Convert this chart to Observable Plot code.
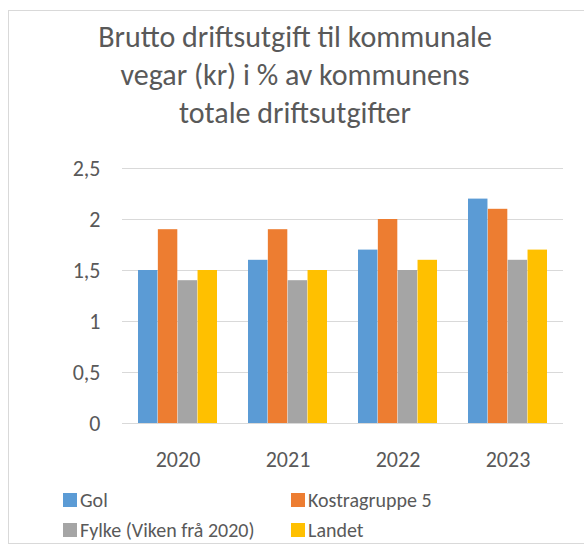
<!DOCTYPE html>
<html>
<head>
<meta charset="utf-8">
<script src="https://cdn.jsdelivr.net/npm/d3@7"></script>
<script src="https://cdn.jsdelivr.net/npm/@observablehq/plot@0.6"></script>
<style>
  html, body { margin: 0; padding: 0; background: #ffffff; }
  body { width: 584px; height: 550px; position: relative; overflow: hidden; font-family: Calibri, Carlito, Lato, "Open Sans", sans-serif; color: #595959; }
  #frame { position: absolute; left: 8px; top: 10px; width: 590px; height: 534px; border: 1px solid #d9d9d9; box-sizing: border-box; }
  #title { position: absolute; left: 8px; width: 574px; top: 18px; text-align: center; font-size: 30px; line-height: 38px; color: #595959; }
  #chart { position: absolute; left: 0; top: 150px; }
  .leg { position: absolute; font-size: 20px; line-height: 22px; color: #595959; white-space: nowrap; }
  .sw { position: absolute; width: 14px; height: 14px; }
</style>
</head>
<body>
<div id="frame"></div>
<div id="title">Brutto driftsutgift til kommunale<br>vegar (kr) i % av kommunens<br>totale driftsutgifter</div>
<div id="chart"></div>
<div id="legend"></div>
<script>
// ---- data ----
const years = ["2020", "2021", "2022", "2023"];
const seriesNames = ["Gol", "Kostragruppe 5", "Fylke (Viken frå 2020)", "Landet"];
const golValues = [1.5, 1.6, 1.7, 2.2];
const kostraValues = [1.9, 1.9, 2.0, 2.1];
const fylkeValues = [1.4, 1.4, 1.5, 1.6];
const landetValues = [1.5, 1.5, 1.6, 1.7];
const yTicks = [0, 0.5, 1, 1.5, 2, 2.5];

// ---- styles ----
const colors = ["#5B9BD5", "#ED7D31", "#A5A5A5", "#FFC000"];
const seriesValues = [golValues, kostraValues, fylkeValues, landetValues];

const rows = [];
seriesNames.forEach((s, i) => years.forEach((y, j) => rows.push({series: s, year: y, value: seriesValues[i][j]})));

const W = 584, H = 335, mL = 122, mR = 21, mT = 18, mB = 62;
const pIn = 0.28, pOut = 0.14;
const step = (W - mL - mR) / (years.length - pIn + 2 * pOut);
const bw = step * (1 - pIn);
const each = bw / seriesNames.length;

const fmt = d => String(d).replace(".", ",");

const barMarks = seriesNames.map((s, i) =>
  Plot.barY(rows.filter(r => r.series === s), {
    x: "year", y: "value", fill: colors[i],
    insetLeft: i * each, insetRight: (seriesNames.length - 1 - i) * each
  })
);

const chart = Plot.plot({
  width: W, height: H,
  marginLeft: mL, marginRight: mR, marginTop: mT, marginBottom: mB,
  style: {fontFamily: "Calibri, Carlito, Lato, 'Open Sans', sans-serif", fontSize: "22px", color: "#595959", background: "transparent", overflow: "visible"},
  x: {type: "band", domain: years, paddingInner: pIn, paddingOuter: pOut, label: null, tickSize: 0, tickPadding: 28},
  y: {domain: [0, 2.5], ticks: yTicks, tickFormat: fmt, label: null, tickSize: 0, tickPadding: 22},
  marks: [
    Plot.ruleY(yTicks, {stroke: "#d9d9d9", strokeWidth: 1}),
    ...barMarks
  ]
});
document.getElementById("chart").appendChild(chart);

// ---- legend ----
const legendPos = [[63, 493], [291, 493], [63, 523], [291, 523]];
const leg = document.getElementById("legend");
seriesNames.forEach((s, i) => {
  const [lx, ly] = legendPos[i];
  const sw = document.createElement("div");
  sw.className = "sw";
  sw.style.left = lx + "px"; sw.style.top = ly + "px"; sw.style.background = colors[i];
  leg.appendChild(sw);
  const t = document.createElement("div");
  t.className = "leg";
  t.style.left = (lx + 17) + "px"; t.style.top = (ly - 4) + "px";
  t.textContent = s;
  leg.appendChild(t);
});
</script>
</body>
</html>
